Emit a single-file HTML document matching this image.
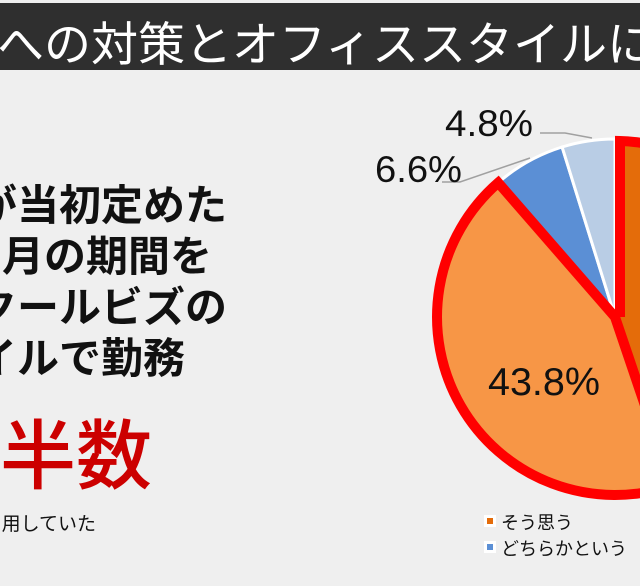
<!DOCTYPE html>
<html><head><meta charset="utf-8"><style>
body{margin:0;width:640px;height:586px;overflow:hidden;background:#efefef;position:relative;font-family:"Liberation Sans","Noto Sans CJK JP",sans-serif;}
.wrap{position:absolute;left:0;top:0;width:640px;height:586px;overflow:hidden}
.bar{position:absolute;left:0;top:3px;width:640px;height:67px;background:#2f2f2f;overflow:hidden}
.bar span{position:absolute;left:-3px;top:3px;color:#fff;font-size:47px;white-space:nowrap;font-family:"Noto Sans CJK JP",sans-serif;}
.t{position:absolute;white-space:nowrap;font-family:"Noto Sans CJK JP",sans-serif;font-weight:bold;color:#111;font-size:42px;line-height:50px}
</style></head><body><div class="wrap">
<div class="bar"><span>への対策とオフィススタイルに関</span></div>
<div class="t" style="right:413px;top:178px">が当初定めた</div>
<div class="t" style="right:428px;top:229px">月の期間を</div>
<div class="t" style="right:413px;top:280px">クールビズの</div>
<div class="t" style="right:455px;top:331px">イルで勤務</div>
<div class="t" style="right:488px;top:405px;color:#cc0000;font-size:76px;line-height:90px;font-weight:500">半数</div>
<div class="t" style="right:544px;top:510px;font-size:19px;font-weight:normal;line-height:26px">用していた</div>
<svg width="640" height="586" style="position:absolute;left:0;top:0">
<g stroke="#fff" stroke-width="3" stroke-linejoin="miter">
<path d="M615,317 L615,139 A178,178 0 0 1 672.1,485.6 Z" fill="#e46c0a"/>
<path d="M615,317 L672.1,485.6 A178,178 0 0 1 498.2,182.7 Z" fill="#f79646"/>
<path d="M615,317 L498.2,182.7 A178,178 0 0 1 562.1,147 Z" fill="#5b8fd5"/>
<path d="M615,317 L562.1,147 A178,178 0 0 1 615,139 Z" fill="#b9cde5"/>
</g>
<g fill="none" stroke="#ff0000" stroke-width="10" stroke-linejoin="miter">
<path d="M615,317 L672.1,485.6 A178,178 0 0 1 498.2,182.7 Z"/>
<path d="M620,317 L620,141 A176,176 0 0 1 676,482"/>
</g>
<g stroke="#a0a0a0" stroke-width="1.5" fill="none">
<path d="M540,133 L565,133 L592,138"/>
<path d="M442,182 L460,182 L530,158"/>
</g>
<g font-family="Liberation Sans, sans-serif" font-size="37" fill="#111">
<text x="445" y="136" textLength="88" lengthAdjust="spacingAndGlyphs">4.8%</text>
<text x="375" y="182" textLength="87" lengthAdjust="spacingAndGlyphs">6.6%</text>
<text x="488" y="395" font-size="39" textLength="112" lengthAdjust="spacingAndGlyphs">43.8%</text>
</g>
<rect x="484" y="515" width="12" height="12" fill="#fff"/><rect x="487" y="518" width="6" height="6" fill="#e46c0a"/>
<rect x="484" y="541" width="12" height="12" fill="#fff"/><rect x="487" y="544" width="6" height="6" fill="#5b8fd5"/>
<g font-family="Noto Sans CJK JP, sans-serif" font-size="18" fill="#111">
<text x="501" y="529">そう思う</text>
<text x="501" y="555">どちらかという</text>
</g>
</svg>
</div></body></html>
